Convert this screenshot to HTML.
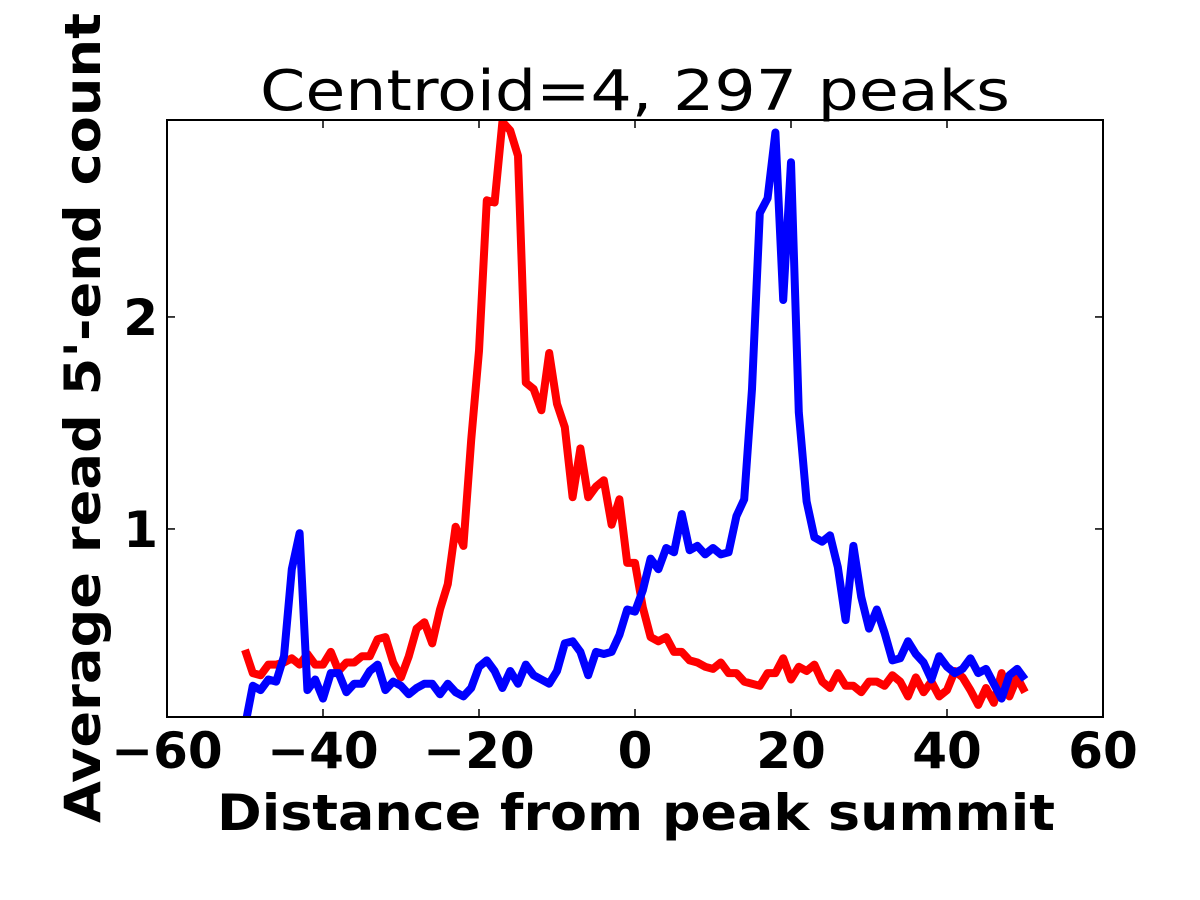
<!DOCTYPE html>
<html><head><meta charset="utf-8"><style>
html,body{margin:0;padding:0;background:#fff;}
svg{display:block;font-family:"DejaVu Sans","Liberation Sans",sans-serif;}
</style></head><body>
<svg id="chart" width="1200" height="900" viewBox="0 0 1200 900" xmlns="http://www.w3.org/2000/svg">
<defs><clipPath id="clip"><rect x="167" y="120" width="936" height="597"/></clipPath></defs>
<text x="635" y="110" font-size="56" text-anchor="middle" textLength="750" lengthAdjust="spacingAndGlyphs">Centroid=4, 297 peaks</text>
<g id="series" clip-path="url(#clip)"></g>
<rect x="167" y="120" width="936" height="597" fill="none" stroke="#000" stroke-width="2"/>
<g id="ticks"></g>
<text x="636" y="830" font-size="50" font-weight="bold" text-anchor="middle" textLength="838" lengthAdjust="spacingAndGlyphs">Distance from peak summit</text>
<text transform="translate(100,418) rotate(-90)" x="0" y="0" font-size="50" font-weight="bold" text-anchor="middle" textLength="810" lengthAdjust="spacingAndGlyphs">Average read 5'-end count</text>
</svg>
<script>
const xTicks = [-60, -40, -20, 0, 20, 40, 60];
const xTickLabels = ["\u221260", "\u221240", "\u221220", "0", "20", "40", "60"];
const yTicks = [1, 2];
const yTickLabels = ["1", "2"];
const positions = [];
for (let i = -50; i <= 50; i++) positions.push(i);
const redValues = [0.43,0.32,0.31,0.36,0.36,0.37,0.39,0.36,0.41,0.36,0.36,0.42,0.33,0.37,0.37,0.40,0.40,0.48,0.49,0.37,0.30,0.40,0.53,0.56,0.46,0.62,0.74,1.01,0.92,1.42,1.84,2.55,2.54,2.92,2.88,2.76,1.69,1.66,1.56,1.83,1.59,1.48,1.15,1.38,1.15,1.20,1.23,1.02,1.14,0.84,0.84,
0.63,0.49,0.47,0.49,0.42,0.42,0.38,0.37,0.35,0.34,0.37,0.32,0.32,0.28,0.27,0.26,0.32,0.32,0.39,0.29,0.35,0.33,0.36,0.28,0.25,0.32,0.26,0.26,0.23,0.28,0.28,0.26,0.31,0.28,0.21,0.30,0.23,0.28,0.21,0.24,0.33,0.30,0.24,0.17,0.25,0.18,0.32,0.21,0.30,0.23];
const blueValues = [0.07,0.26,0.24,0.29,0.28,0.40,0.81,0.98,0.24,0.29,0.20,0.32,0.32,0.23,0.27,0.27,0.33,0.36,0.24,0.28,0.26,0.22,0.25,0.27,0.27,0.22,0.27,0.23,0.21,0.25,0.35,0.38,0.33,0.25,0.33,0.27,0.36,0.31,0.29,0.27,0.33,0.46,0.47,0.42,0.31,0.42,0.41,0.42,0.50,0.62,0.61,
0.71,0.86,0.81,0.91,0.89,1.07,0.90,0.92,0.88,0.91,0.88,0.89,1.06,1.14,1.66,2.49,2.56,2.87,2.08,2.73,1.55,1.13,0.96,0.94,0.97,0.82,0.57,0.92,0.68,0.53,0.62,0.51,0.38,0.39,0.47,0.41,0.37,0.29,0.40,0.35,0.32,0.34,0.39,0.32,0.34,0.27,0.20,0.31,0.34,0.29];

const NS = "http://www.w3.org/2000/svg";
const X0 = 167, X1 = 1103, Y0 = 717, Y1 = 120;
const xMin = -60, xMax = 60, yMin = 0.113, yMax = 2.929;
function sx(v){ return X0 + (v - xMin) / (xMax - xMin) * (X1 - X0); }
function sy(v){ return Y0 - (v - yMin) / (yMax - yMin) * (Y0 - Y1); }

const series = document.getElementById('series');
function drawLine(vals, color, name){
  const p = document.createElementNS(NS, 'polyline');
  p.setAttribute('points', vals.map((v,i)=>sx(positions[i]).toFixed(1)+','+sy(v).toFixed(1)).join(' '));
  p.setAttribute('fill','none');
  p.setAttribute('stroke',color);
  p.setAttribute('stroke-width','8');
  p.setAttribute('stroke-linejoin','round');
  
  
  series.appendChild(p);
}
drawLine(redValues, '#ff0000', 'red-series-line');
drawLine(blueValues, '#0000ff', 'blue-series-line');

const ticks = document.getElementById('ticks');
function line(x1,y1,x2,y2){
  const l = document.createElementNS(NS,'line');
  l.setAttribute('x1',x1);l.setAttribute('y1',y1);l.setAttribute('x2',x2);l.setAttribute('y2',y2);
  l.setAttribute('stroke','#000');l.setAttribute('stroke-width','1.5');
  
  
  ticks.appendChild(l);
}
xTicks.forEach((v,i)=>{
  const x = sx(v);
  line(x, Y0, x, Y0-8); line(x, Y1, x, Y1+8);
  const t = document.createElementNS(NS,'text');
  t.setAttribute('x', x); t.setAttribute('y', 768);
  t.setAttribute('font-size','50'); t.setAttribute('font-weight','bold');
  t.setAttribute('text-anchor','middle');
  
  
  t.textContent = xTickLabels[i];
  ticks.appendChild(t);
});
yTicks.forEach((v,i)=>{
  const y = sy(v);
  line(X0, y, X0+8, y); line(X1, y, X1-8, y);
  const t = document.createElementNS(NS,'text');
  t.setAttribute('x', 158); t.setAttribute('y', y+18);
  t.setAttribute('font-size','50'); t.setAttribute('font-weight','bold');
  t.setAttribute('text-anchor','end');
  
  
  t.textContent = yTickLabels[i];
  ticks.appendChild(t);
});
</script>
</body></html>
